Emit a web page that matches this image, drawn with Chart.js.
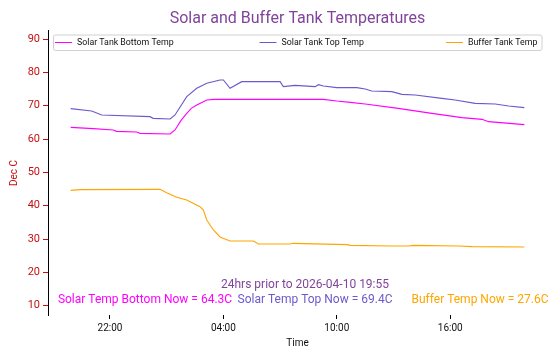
<!DOCTYPE html>
<html lang="en">
<head>
<meta charset="UTF-8">
<title>Solar and Buffer Tank Temperatures</title>
<script src="https://cdn.jsdelivr.net/npm/chart.js"></script>
<style>
  html, body { margin: 0; padding: 0; background: #fff; }
</style>
</head>
<body>

<div style="width: 558px; height: 358px;">
    <canvas id="tankChart"></canvas>
</div>

<script>
    // hours counted from midnight of 2026-04-09 (so 28 = 04:00 on the 10th)
    var bottomHours = [19.92, 21.12, 22.17, 22.35, 23.41, 23.59, 25.18, 25.44, 25.75, 26.06, 26.30, 26.59, 27.12, 27.50, 33.29, 34.00, 34.71, 35.50, 37.25, 39.03, 40.62, 41.68, 42.03, 43.92];
    var bottomTemps = [63.5, 63.1, 62.7, 62.3, 62.1, 61.7, 61.5, 62.7, 65.5, 67.7, 69.2, 70.2, 71.7, 71.9, 71.9, 71.4, 71.0, 70.5, 69.2, 67.7, 66.4, 65.9, 65.2, 64.3];

    var topHours = [19.92, 21.03, 21.56, 24.12, 24.28, 25.18, 25.44, 26.06, 26.59, 27.12, 27.82, 28.00, 28.35, 28.97, 31.00, 31.17, 31.79, 32.85, 33.03, 33.29, 34.00, 35.06, 35.50, 35.85, 36.91, 37.44, 38.15, 39.56, 40.26, 41.32, 42.38, 43.09, 43.92];
    var topTemps = [69.1, 68.4, 67.2, 66.7, 66.2, 66.0, 67.2, 72.7, 75.2, 76.7, 77.7, 77.7, 75.2, 77.2, 77.2, 75.7, 76.1, 75.7, 76.3, 75.9, 75.4, 75.4, 75.0, 74.4, 74.2, 73.4, 73.2, 72.2, 71.7, 70.7, 70.5, 69.9, 69.4];

    var bufferHours = [19.92, 20.41, 24.65, 25.00, 25.53, 26.06, 26.76, 26.94, 27.12, 27.47, 27.82, 28.35, 29.59, 29.85, 31.53, 31.70, 34.53, 34.71, 36.91, 37.79, 38.06, 40.44, 41.15, 43.92];
    var bufferTemps = [44.6, 44.8, 44.9, 43.9, 42.5, 41.7, 39.7, 38.7, 35.7, 32.7, 30.6, 29.4, 29.4, 28.5, 28.5, 28.7, 28.3, 28.1, 27.9, 27.9, 28.1, 27.9, 27.7, 27.6];

    var tickHours = [22, 28, 34, 40];
    var tickLabels = ['22:00', '04:00', '10:00', '16:00'];

    var seriesNames = ['Solar Tank Bottom Temp', 'Solar Tank Top Temp', 'Buffer Tank Temp'];
    var seriesColors = ['#ff00ff', '#6a5acd', '#ffa500'];

    var subtitle = '24hrs prior to 2026-04-10 19:55';
    var nowTexts = ['Solar Temp Bottom Now = 64.3C', 'Solar Temp Top Now = 69.4C', 'Buffer Temp Now = 27.6C'];

    function toPoints(hours, temps) {
        return hours.map(function(h, i) { return { x: h, y: temps[i] }; });
    }

    var tickRed = '#c41010';
    var titlePurple = '#80449a';

    // draws title, in-axes legend and the text notes like the original figure
    var notesPlugin = {
        id: 'notes',
        afterDraw: function(chart) {
            var ctx = chart.ctx;
            var a = chart.chartArea;
            var mid = (a.left + a.right) / 2;
            ctx.save();

            ctx.textAlign = 'center';
            ctx.textBaseline = 'alphabetic';
            ctx.fillStyle = titlePurple;
            ctx.font = '16px Roboto';
            ctx.fillText('Solar and Buffer Tank Temperatures', mid, 23);

            // legend box
            var bx = a.left + 5, by = a.top + 4.5, bw = a.right - a.left - 10.5, bh = 15.5;
            ctx.fillStyle = 'rgba(255,255,255,0.8)';
            ctx.strokeStyle = '#d0d0d0';
            ctx.lineWidth = 1;
            ctx.beginPath();
            ctx.roundRect(bx + 0.5, by + 0.5, bw, bh, 2);
            ctx.fill();
            ctx.stroke();

            var lineX = [55, 259.5, 446];
            var ly = by + 8;
            ctx.font = '8.8px Roboto';
            ctx.textAlign = 'left';
            ctx.textBaseline = 'middle';
            for (var i = 0; i < seriesNames.length; i++) {
                ctx.strokeStyle = seriesColors[i];
                ctx.beginPath();
                ctx.moveTo(lineX[i], ly);
                ctx.lineTo(lineX[i] + 17, ly);
                ctx.stroke();
                ctx.fillStyle = '#111';
                ctx.fillText(seriesNames[i], lineX[i] + 22, ly + 0.5);
            }

            // notes at the bottom of the plot
            ctx.textAlign = 'center';
            ctx.textBaseline = 'alphabetic';
            ctx.font = '12px Roboto';
            ctx.fillStyle = titlePurple;
            ctx.fillText(subtitle, 305, 288);
            var noteX = [145, 315, 480];
            for (var j = 0; j < nowTexts.length; j++) {
                ctx.fillStyle = seriesColors[j];
                ctx.fillText(nowTexts[j], noteX[j], 303);
            }

            // axis titles
            ctx.font = '10px Roboto';
            ctx.fillStyle = '#111';
            ctx.fillText('Time', mid, 346);
            ctx.save();
            ctx.translate(17, 173);
            ctx.rotate(-Math.PI / 2);
            ctx.fillStyle = tickRed;
            ctx.fillText('Dec C', 0, 0);
            ctx.restore();

            ctx.restore();
        }
    };

    var ctx = document.getElementById('tankChart').getContext('2d');

    var tankChart = new Chart(ctx, {
        type: 'line',
        data: {
            datasets: [{
                label: seriesNames[0],
                data: toPoints(bottomHours, bottomTemps),
                borderColor: seriesColors[0],
                borderWidth: 1.1,
                pointRadius: 0,
                tension: 0
            }, {
                label: seriesNames[1],
                data: toPoints(topHours, topTemps),
                borderColor: seriesColors[1],
                borderWidth: 1.1,
                pointRadius: 0,
                tension: 0
            }, {
                label: seriesNames[2],
                data: toPoints(bufferHours, bufferTemps),
                borderColor: seriesColors[2],
                borderWidth: 1.1,
                pointRadius: 0,
                tension: 0
            }]
        },
        options: {
            responsive: true,
            maintainAspectRatio: false,
            animation: false,
            layout: {
                padding: { top: 30, right: 11, left: 0, bottom: 0 }
            },
            plugins: {
                legend: { display: false },
                title: { display: false },
                tooltip: { enabled: false }
            },
            scales: {
                x: {
                    type: 'linear',
                    min: 18.72,
                    max: 45.12,
                    afterFit: function(scale) { scale.height = 43; },
                    afterBuildTicks: function(scale) {
                        scale.ticks = tickHours.map(function(h) { return { value: h }; });
                    },
                    border: { display: false },
                    grid: {
                        display: true,
                        drawOnChartArea: false,
                        drawTicks: true,
                        tickLength: 4,
                        color: '#000'
                    },
                    ticks: {
                        color: '#111',
                        font: { family: 'Roboto', size: 10 },
                        padding: 3,
                        maxRotation: 0,
                        callback: function(value) {
                            var k = tickHours.indexOf(value);
                            return k >= 0 ? tickLabels[k] : '';
                        }
                    }
                },
                y: {
                    min: 7.2,
                    max: 92.7,
                    afterFit: function(scale) { scale.width = 48; },
                    afterBuildTicks: function(scale) {
                        var t = [];
                        for (var v = 10; v <= 90; v += 10) t.push({ value: v });
                        scale.ticks = t;
                    },
                    border: { display: true, color: '#000', width: 1 },
                    grid: {
                        display: true,
                        drawOnChartArea: false,
                        drawTicks: true,
                        tickLength: 5,
                        color: tickRed
                    },
                    ticks: {
                        color: tickRed,
                        font: { family: 'Roboto', size: 11 },
                        padding: 3
                    }
                }
            }
        },
        plugins: [notesPlugin]
    });
</script>

</body>
</html>
